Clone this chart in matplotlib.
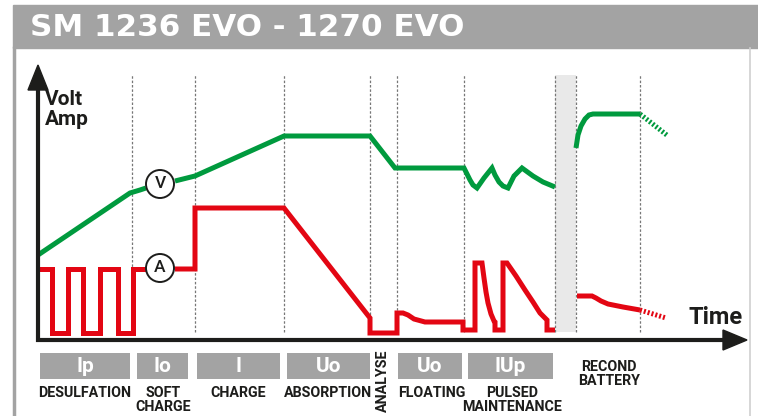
import matplotlib.pyplot as plt
from matplotlib.patches import Rectangle, Polygon, Circle

# Charge profile (time units / level units above time axis)
volt_t1 = [0, 92, 102, 108]
volt_v1 = [85, 147, 150, 152]
volt_t2 = [137, 157, 246, 332, 357, 426, 429, 432, 435, 439, 446, 454, 457, 461,
           465, 470, 476, 484, 495, 505, 517]
volt_v2 = [159, 164, 204, 204, 172, 172, 166, 160, 155, 152, 162, 172, 165, 158,
           154, 152, 164, 172, 164, 158, 153]
volt_t3 = [538, 540, 543, 547, 551, 555, 602]
volt_v3 = [192, 205, 214, 221, 225, 226, 226]
volt_tail_t = [602, 630]
volt_tail_v = [226, 204]

amp_t1 = [0, 14, 14, 30, 30, 45, 45, 62, 62, 80, 80, 95, 95, 108]
amp_v1 = [71, 71, 7, 7, 71, 71, 7, 7, 71, 71, 7, 7, 71, 71]
amp_t2 = [137, 157, 157, 246, 332, 332, 359, 359, 365, 370, 376, 387, 425, 425,
          437, 437, 444, 446, 448, 450, 453, 456, 457, 457, 465, 465, 469, 478,
          487, 495, 502, 509, 509, 517]
amp_v2 = [71, 71, 132, 132, 22, 7, 7, 27, 27, 25, 21, 18, 18, 10,
          10, 77, 77, 62, 48, 37, 26, 19, 18, 10, 10, 77, 77, 64,
          50, 38, 27, 20, 10, 10]
amp_t3 = [539, 554, 558, 563, 570, 585, 602]
amp_v3 = [44, 44, 42, 39, 36, 33, 30]
amp_tail_t = [602, 628]
amp_tail_v = [30, 22]

dividers = [94, 157, 246, 332, 359, 426, 517, 538, 602]
band = (517, 538)

box_names = ['Ip', 'Io', 'I', 'Uo', 'Uo', 'IUp']
box_start = [2, 99, 159, 249, 360, 430]
box_end = [92, 150, 242, 332, 424, 515]

phase_labels = ['DESULFATION', 'SOFT\nCHARGE', 'CHARGE', 'ABSORPTION',
                'FLOATING', 'PULSED\nMAINTENANCE', 'RECOND\nBATTERY']
phase_pos = [47, 125, 200, 290, 394, 474, 571]

title = 'SM 1236 EVO - 1270 EVO'

green = '#009a3e'
red = '#e30613'
dark = '#1d1d1b'
grey = '#a3a3a3'
font = ['Roboto', 'DejaVu Sans']

fig = plt.figure(figsize=(7.58, 4.16), dpi=100)
ax = fig.add_axes([0, 0, 1, 1])
ax.set_xlim(-38, 720)
ax.set_ylim(-76, 340)
ax.axis('off')

# Header and frame
ax.add_patch(Rectangle((-25, 292), 745, 43, color=grey, zorder=1))
ax.plot([-24, -24], [292, -76], color=grey, lw=2.5, zorder=1)
ax.plot([712, 712], [292, -76], color='#d0d0d0', lw=1.2, zorder=1)
ax.text(-8, 312, title, color='white', fontsize=22.3, family='DejaVu Sans',
        weight='semibold', va='center', ha='left', zorder=2)

# Dividers and gap band
ax.add_patch(Rectangle((band[0], 8), band[1] - band[0], 257, color='#e9e9e9',
                       lw=0, zorder=1))
for t in dividers:
    ax.plot([t, t], [8, 265], color='#777777', lw=0.9, ls=(0, (2, 1.5)), zorder=2)

# Axes arrows
ax.plot([0, 0], [-2, 252], color=dark, lw=3, solid_capstyle='butt', zorder=5)
ax.add_patch(Polygon([[-10, 250], [10, 250], [0, 275]], color=dark, zorder=5))
ax.plot([-2, 688], [0, 0], color=dark, lw=3, solid_capstyle='butt', zorder=5)
ax.add_patch(Polygon([[685, 10], [685, -10], [709, 0]], color=dark, zorder=5))

ax.text(7, 250, 'Volt\nAmp', fontsize=15, weight='bold', family=font,
        color=dark, va='top', ha='left', linespacing=1.05)
ax.text(705, 23, 'Time', fontsize=17, weight='bold', family=font, color=dark,
        va='center', ha='right')

# Curves
kw = dict(lw=3.6, solid_joinstyle='miter', solid_capstyle='butt', zorder=4)
ax.plot(volt_t1, volt_v1, color=green, **kw)
ax.plot(volt_t2, volt_v2, color=green, **kw)
ax.plot(volt_t3, volt_v3, color=green, **kw)
ax.plot(volt_tail_t, volt_tail_v, color=green, lw=3.6, ls=(0, (0.4, 0.4)), zorder=4)
ax.plot(amp_t1, amp_v1, color=red, **kw)
ax.plot(amp_t2, amp_v2, color=red, **kw)
ax.plot(amp_t3, amp_v3, color=red, **kw)
ax.plot(amp_tail_t, amp_tail_v, color=red, lw=3.6, ls=(0, (0.4, 0.4)), zorder=4)

for cy, letter in [(156, 'V'), (72, 'A')]:
    ax.add_patch(Circle((122, cy), 14, facecolor='white', edgecolor=dark,
                        lw=1.4, zorder=6))
    ax.text(122, cy, letter, fontsize=12.5, family=font, weight='medium',
            color=dark, ha='center', va='center', zorder=7)

# Phase boxes and labels
for name, a, b in zip(box_names, box_start, box_end):
    ax.add_patch(Rectangle((a, -39), b - a, 26, color=grey, lw=0, zorder=2))
    ax.text((a + b) / 2, -26, name, fontsize=15, weight='bold', family=font,
            color='white', ha='center', va='center', zorder=3)

for lab, t in zip(phase_labels, phase_pos):
    y = -20 if lab.startswith('RECOND') else -46
    ax.text(t, y, lab, fontsize=10.3, weight='bold', family=font, color=dark,
            ha='center', va='top', linespacing=1.0)
ax.text(345, -41, 'ANALYSE', fontsize=10.3, weight='bold', family=font,
        color=dark, ha='center', va='center', rotation=90)

fig.savefig('out.png', dpi=100)
